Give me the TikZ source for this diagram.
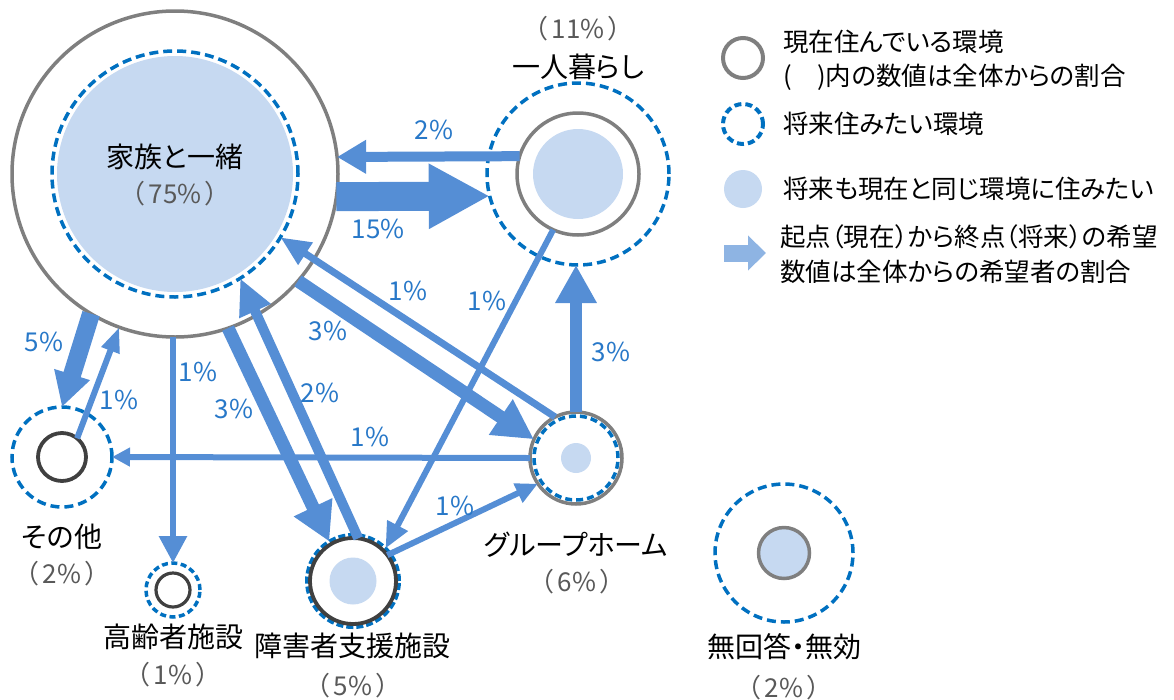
\documentclass[tikz,border=0pt]{standalone}
\usepackage{fontspec}
\newfontfamily\jp{Noto Sans CJK JP}
\newfontfamily\jpp[RawFeature=+palt]{Noto Sans CJK JP}
\usetikzlibrary{arrows.meta}
\definecolor{nowgray}{RGB}{127,127,127}
\definecolor{darkgray}{RGB}{64,64,64}
\definecolor{futblue}{RGB}{0,112,192}
\definecolor{samefill}{RGB}{198,217,241}
\definecolor{arrblue}{RGB}{85,142,213}
\definecolor{legarr}{RGB}{142,180,227}
\definecolor{valblue}{RGB}{40,120,200}
\definecolor{pctgray}{RGB}{89,89,89}
\newcommand{\pc}[1]{（\hspace{3pt}#1\hspace{3pt}）}
\tikzset{
  circ/.style={circle, inner sep=0pt, outer sep=0pt},
  curc/.style={circ, draw=nowgray, line width=3.5pt},
  curd/.style={circ, draw=darkgray, line width=3.8pt},
  futd/.style={circ, draw=futblue, line width=3.5pt, dash pattern=on 9pt off 5pt},
  samef/.style={circ, fill=samefill},
  flow/.style={draw=arrblue},
  lbl/.style={font=\jpp\fontsize{28}{32}\selectfont, text=black, inner sep=0pt},
  pct/.style={font=\jp\fontsize{26}{30}\selectfont, text=pctgray, inner sep=0pt},
  val/.style={font=\jp\fontsize{26}{30}\selectfont, text=valblue, inner sep=0pt},
  leg/.style={font=\jpp\fontsize{25.5}{30}\selectfont, text=black, anchor=west, inner sep=0pt},
}
\begin{document}
\begin{tikzpicture}[x=1pt,y=-1pt]
\useasboundingbox (0,0) rectangle (1174,699);

% family
\node[samef, minimum size=236pt] (famS) at (175,174) {};
\node[futd, minimum size=246pt] (famD) at (175,174) {};
\node[curc, minimum size=326pt] (famC) at (175,174) {};
% living alone
\node[futd, minimum size=182pt] (hitD) at (578,174) {};
\node[samef, minimum size=90pt] (hitS) at (578,174) {};
\node[curc, minimum size=122pt] (hitC) at (578,174) {};
% group home
\node[curc, minimum size=92pt] (ghC) at (576,458) {};
\node[futd, minimum size=84pt, dash pattern=on 7pt off 4pt] (ghD) at (576,458) {};
\node[samef, minimum size=30pt] (ghS) at (576,458) {};
% support facility
\node[futd, minimum size=92pt, line width=4pt, dash pattern=on 7pt off 3pt] (shoD) at (353,581) {};
\node[curd, minimum size=86pt, fill=white] (shoC) at (353,581) {};
\node[samef, minimum size=47pt] (shoS) at (353,581) {};
% other
\node[futd, minimum size=100pt] (othD) at (62,457) {};
\node[curd, minimum size=48pt] (othC) at (62,457) {};
% elderly facility
\node[futd, minimum size=54pt, dash pattern=on 6pt off 3.5pt] (korD) at (173,590) {};
\node[curd, minimum size=34pt, line width=3.2pt] (korC) at (173,590) {};
% no answer
\node[futd, minimum size=138pt] (nonD) at (784,553) {};
\node[curc, minimum size=51pt, fill=samefill] (nonC) at (784,553) {};

% arrows
\draw[flow, line width=10pt, -{Triangle[length=29pt,width=32pt]}] (hitC.163) -- (famC.6.5);
\draw[flow, line width=29pt, -{Triangle[length=61pt,width=61pt]}] (famC.-8.1) -- (hitD.-166.3);
\draw[flow, line width=6pt, -{Triangle[length=26pt,width=22pt]}] (hitC.-114.9) -- (shoD.45.9);
\draw[flow, line width=12pt, -{Triangle[length=38pt,width=39pt]}] (ghC.north) -- (ghC.north |- hitD.south);
\draw[flow, line width=7pt, -{Triangle[length=30pt,width=25pt]}] (ghC.117.7) -- (famD.-31.4);
\draw[flow, line width=13pt, -{Triangle[length=40pt,width=40pt]}] (famC.-41) -- (ghC.156.3);
\draw[flow, line width=6pt, -{Triangle[length=18pt,width=18pt]}] (ghC.west) -- (othD.east);
\draw[flow, line width=6pt, -{Triangle[length=22pt,width=20pt]}] (shoC.37) -- (ghC.-146.6);
\draw[flow, line width=10pt, -{Triangle[length=36pt,width=32pt]}] (shoC.83) -- (famD.-58.7);
\draw[flow, line width=13pt, -{Triangle[length=38pt,width=40pt]}] (famC.-71.2) -- (shoD.121.4);
\draw[flow, line width=6pt, -{Triangle[length=27pt,width=27pt]}] (korD.north |- famC.south) -- (korD.north);
\draw[flow, line width=18pt, -{Triangle[length=34pt,width=35pt]}] (famC.-121.1) -- (othD.north);
\draw[flow, line width=6pt, -{Triangle[length=25pt,width=18pt]}] (othC.51.3) -- (famC.-110.4);

% value labels
\node[val] (v1) at (434,130) {2\%};
\node[val] (v2) at (378,229) {15\%};
\node[val] (v3) at (408,291) {1\%};
\node[val] (v4) at (487,301) {1\%};
\node[val] (v5) at (328,331) {3\%};
\node[val] (v6) at (611,352) {3\%};
\node[val] (v7) at (320,393) {2\%};
\node[val] (v8) at (234,409) {3\%};
\node[val] (v9) at (370,437) {1\%};
\node[val] (v10) at (198,372) {1\%};
\node[val] (v11) at (44,342) {5\%};
\node[val] (v12) at (119,400) {1\%};
\node[val] (v13) at (455,506) {1\%};

% names
\node[lbl] (famT) at (175,157) {家族と一緒};
\node[pct] (famP) at (175,194) {\pc{75\%}};
\node[pct] (hitP) at (578,29) {\pc{11\%}};
\node[lbl] (hitT) at (578,67) {一人暮らし};
\node[lbl] (ghT) at (576,545) {グループホーム};
\node[pct] (ghP) at (577,582) {\pc{6\%}};
\node[lbl] (shoT) at (352,646) {障害者支援施設};
\node[pct] (shoP) at (353,686) {\pc{5\%}};
\node[lbl] (othT) at (62,537) {その他};
\node[pct] (othP) at (62,574) {\pc{2\%}};
\node[lbl] (korT) at (173,637) {高齢者施設};
\node[pct] (korP) at (173,675) {\pc{1\%}};
\node[lbl] (nonT) at (784,647) {無回答・無効};
\node[pct] (nonP) at (784,688) {\pc{2\%}};

% legend
\node[curc, minimum size=40pt, line width=4pt] (legC) at (743,58) {};
\node[futd, minimum size=40pt, line width=4pt, dash pattern=on 7pt off 4pt] (legD) at (743,124) {};
\node[samef, minimum size=38pt] (legS) at (743,189) {};
\coordinate (legA) at (724,253);
\coordinate (legB) at (766,253);
\draw[draw=legarr, line width=17pt, -{Triangle[length=18pt,width=34pt]}] (legA) -- (legB);
\node[leg] (l1) at (783,42) {現在住んでいる環境};
\node[leg] (l2) at (783,77) {(　)内の数値は全体からの割合};
\node[leg] (l3) at (783,124) {将来住みたい環境};
\node[leg] (l4) at (783,189) {将来も現在と同じ環境に住みたい};
\node[leg] (l5) at (780,237) {起点（現在）から終点（将来）の希望};
\node[leg] (l6) at (780,272) {数値は全体からの希望者の割合};
\end{tikzpicture}
\end{document}
